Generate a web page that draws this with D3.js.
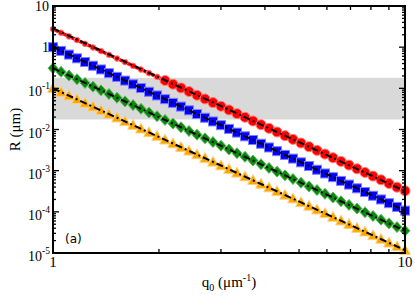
<!DOCTYPE html>
<html><head><meta charset="utf-8">
<script src="https://cdn.jsdelivr.net/npm/d3@7"></script>
<style>body{margin:0;background:#fff}svg{display:block}</style>
</head><body>
<svg id="c" width="415" height="296"></svg>
<script>
const q = [1.000,1.054,1.110,1.170,1.233,1.299,1.369,1.442,1.520,1.602,1.688,1.778,1.874,1.975,2.081,2.192,2.310,2.434,2.565,2.703,2.848,3.001,3.162,3.332,3.511,3.700,3.899,4.108,4.329,4.561,4.806,5.065,5.337,5.623,5.926,6.244,6.579,6.933,7.305,7.698,8.111,8.547,9.006,9.490,10.000];
const redR = [2.754,2.242,1.826,1.486,1.210,0.985,0.802,0.653,0.531,0.433,0.352,0.287,0.2335,0.190,0.1547,0.1259,0.1025,0.0835,0.0680,0.0553,0.0450,0.0367,0.02985,0.0243,0.0198,0.0161,0.0131,0.01067,0.00869,0.00707,0.00576,0.00469,0.00382,0.00311,0.00253,0.00206,0.00168,0.001365,0.001111,0.000905,0.000737,0.000600,0.000488,0.000397,0.000324];
const blueR = [1.000,0.812,0.660,0.536,0.4355,0.354,0.2875,0.2336,0.1898,0.1541,0.1252,0.1017,0.0826,0.0671,0.0545,0.0443,0.0360,0.02924,0.02375,0.0193,0.01568,0.01274,0.01035,0.00841,0.00683,0.00555,0.00451,0.00366,0.002976,0.002417,0.001964,0.001595,0.001296,0.001053,0.000855,0.000695,0.000564,0.000459,0.000373,0.000303,0.000246,0.000200,0.0001623,0.0001318,0.0001071];
const greenR = [0.309,0.2513,0.2044,0.1662,0.1352,0.1100,0.0894,0.0727,0.0591,0.0481,0.0391,0.0318,0.02587,0.02104,0.01711,0.01391,0.01132,0.00920,0.00748,0.00609,0.00495,0.00403,0.00327,0.00266,0.002165,0.00176,0.001432,0.001164,0.000947,0.00077,0.000626,0.000509,0.000414,0.000337,0.000274,0.000223,0.0001812,0.0001474,0.0001199,0.0000975,0.0000793,0.0000645,0.0000524,0.0000426,0.0000347];
const orangeR = [0.1,0.0814,0.0663,0.0540,0.0439,0.0358,0.0291,0.0237,0.0193,0.01571,0.01279,0.01041,0.00848,0.00690,0.00562,0.00457,0.00372,0.00303,0.002467,0.002008,0.001635,0.001331,0.001084,0.000882,0.000718,0.000585,0.000476,0.000388,0.000316,0.000257,0.000209,0.00017,0.0001386,0.0001128,0.0000918,0.0000748,0.0000609,0.0000496,0.0000403,0.0000328,0.0000267,0.0000218,0.0000177,0.0000144,0.0000117];
const fitQ = [1, 10];
const redFit = [2.85, 0.000318];
const blueFit = [1.0, 0.000107];
const greenFit = [0.31, 0.0000345];
const orangeFit = [0.1, 0.0000117];
const band = [0.0175, 0.18];
const yTickExp = [1,0,-1,-2,-3,-4,-5];
const xTickLabels = [1, 10];

const W=415,H=296, m={l:53,r:10,t:6,b:43};
const svg=d3.select('#c');
const x=d3.scaleLog().domain([1,10]).range([m.l,W-m.r]);
const y=d3.scaleLog().domain([1e-5,10]).range([H-m.b,m.t]);
const pw=W-m.r-m.l, ph=H-m.b-m.t;

svg.append('rect').attr('x',x(1)).attr('width',pw)
  .attr('y',y(band[1])).attr('height',y(band[0])-y(band[1])).attr('fill','#d9d9d9');

const series=[
 {v:redR, fit:redFit, fill:'#ff0000', st:'#ff7a7a', type:'circle'},
 {v:blueR, fit:blueFit, fill:'#0000ff', st:'#7f7fff', type:'square'},
 {v:greenR, fit:greenFit, fill:'#0a8a0a', st:'#62b862', type:'diamond'},
 {v:orangeR, fit:orangeFit, fill:'#ffa500', st:'#ffcf7a', type:'triangle'}
];
const g=svg.append('g');
series.forEach(s=>{
  const pts=q.map((qq,i)=>({q:qq,r:s.v[i],i}));
  const gg=g.append('g');
  if(s.type==='circle'){
    gg.append('path').attr('d',d3.line().x(p=>x(p.q)).y(p=>y(p.r))(pts.slice(0,15))).attr('stroke',s.fill).attr('stroke-width',3.5).attr('fill','none');
  }
  pts.forEach(p=>{
    const cx=x(p.q), cy=y(p.r);
    if(s.type==='circle'){
      const rad = p.i<14 ? 2.8 : 5;
      gg.append('circle').attr('cx',cx).attr('cy',cy).attr('r',rad).attr('fill',s.fill).attr('stroke',s.st).attr('stroke-width',1);
    } else if(s.type==='square'){
      gg.append('rect').attr('x',cx-4.5).attr('y',cy-4.5).attr('width',9).attr('height',9).attr('fill',s.fill).attr('stroke',s.st).attr('stroke-width',1);
    } else if(s.type==='diamond'){
      gg.append('path').attr('d',`M${cx},${cy-5.5}L${cx+5},${cy}L${cx},${cy+5.5}L${cx-5},${cy}Z`).attr('fill',s.fill).attr('stroke',s.st).attr('stroke-width',1);
    } else {
      gg.append('path').attr('d',`M${cx},${cy-5.6}L${cx+5.3},${cy+4.2}L${cx-5.3},${cy+4.2}Z`).attr('fill',s.fill).attr('stroke',s.st).attr('stroke-width',1);
    }
  });
});
series.forEach(s=>{
  g.append('path').attr('d',d3.line().x((d,i)=>x(fitQ[i])).y(d=>y(d))(s.fit))
   .attr('fill','none').attr('stroke','#000').attr('stroke-width',2).attr('stroke-dasharray','7,3,2,3');
});

svg.append('rect').attr('x',m.l).attr('y',m.t).attr('width',pw).attr('height',ph).attr('fill','none').attr('stroke','#000').attr('stroke-width',2);

const yt=[];
for(let e=-5;e<=1;e++){ for(let k=1;k<=9;k++){ const v=k*Math.pow(10,e); if(v>=1e-5&&v<=10.0001) yt.push({v,major:k===1}); } }
const tg=svg.append('g').attr('stroke','#000').attr('stroke-width',1.3);
yt.forEach(t=>{
  const L=t.major?6:3, yy=y(t.v);
  tg.append('line').attr('x1',m.l).attr('x2',m.l+L).attr('y1',yy).attr('y2',yy);
  tg.append('line').attr('x1',W-m.r).attr('x2',W-m.r-L).attr('y1',yy).attr('y2',yy);
});
for(let k=2;k<=9;k++){
  const xx=x(k);
  tg.append('line').attr('x1',xx).attr('x2',xx).attr('y1',m.t).attr('y2',m.t+4);
  tg.append('line').attr('x1',xx).attr('x2',xx).attr('y1',H-m.b).attr('y2',H-m.b-4);
}

const serif='"Liberation Serif","Times New Roman",serif';
yTickExp.forEach(e=>{
  const yy=y(Math.pow(10,e));
  if(e===1||e===0){
    svg.append('text').attr('x',49).attr('y',yy+5).attr('text-anchor','end').attr('font-family',serif).attr('font-size',14).text(e===1?'10':'1');
  } else {
    const t=svg.append('text').attr('x',50).attr('y',yy+8).attr('text-anchor','end').attr('font-family',serif).attr('font-size',14);
    t.append('tspan').text('10');
    t.append('tspan').attr('dy',-7).attr('font-size',9.5).text(String(e));
  }
});
xTickLabels.forEach(v=>{
  svg.append('text').attr('x',x(v)).attr('y',H-m.b+14).attr('text-anchor','middle').attr('font-family',serif).attr('font-size',15).text(String(v));
});
const xt=svg.append('text').attr('x',(m.l+W-m.r)/2).attr('y',287).attr('text-anchor','middle').attr('font-family',serif).attr('font-size',15);
xt.append('tspan').text('q');
xt.append('tspan').attr('dy',4).attr('font-size',10).text('0');
xt.append('tspan').attr('dy',-4).text(' (μm');
xt.append('tspan').attr('dy',-6).attr('font-size',10).text('-1');
xt.append('tspan').attr('dy',6).text(')');
svg.append('text').attr('transform',`translate(20,${(m.t+H-m.b)/2}) rotate(-90)`).attr('text-anchor','middle').attr('font-family',serif).attr('font-size',15).text('R (μm)');
svg.append('text').attr('x',65).attr('y',243).attr('font-family','"DejaVu Sans",sans-serif').attr('font-size',12).text('(a)');
</script>
</body></html>
